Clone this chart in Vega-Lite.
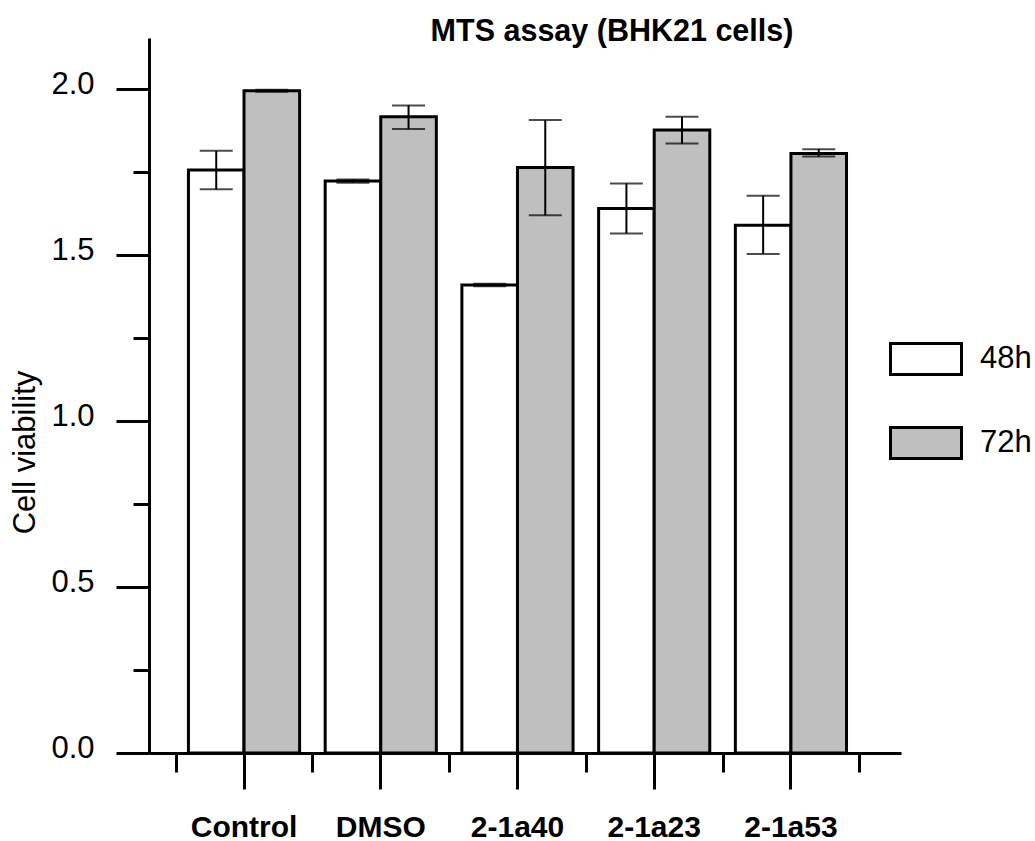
{
  "$schema": "https://vega.github.io/schema/vega-lite/v6.json",
  "autosize": "none",
  "width": 752,
  "height": 715,
  "padding": {"left": 149, "top": 38, "right": 134, "bottom": 88},
  "background": "white",
  "config": {
    "font": "Liberation Sans",
    "view": {"stroke": null},
    "axis": {"grid": false, "domainColor": "black", "tickColor": "black", "labelColor": "black", "titleColor": "black"}
  },
  "title": {
    "text": "MTS assay (BHK21 cells)",
    "fontSize": 30.5,
    "fontWeight": "bold",
    "font": "Liberation Sans",
    "anchor": "middle",
    "baseline": "alphabetic",
    "offset": 0,
    "dx": 87,
    "dy": 33
  },
  "data": {
    "values": [
      {"treatment": "Control", "time": "48h", "value": 1.756, "lo": 1.698, "hi": 1.814},
      {"treatment": "Control", "time": "72h", "value": 1.995, "lo": 1.992, "hi": 1.998},
      {"treatment": "DMSO", "time": "48h", "value": 1.723, "lo": 1.718, "hi": 1.728},
      {"treatment": "DMSO", "time": "72h", "value": 1.917, "lo": 1.880, "hi": 1.951},
      {"treatment": "2-1a40", "time": "48h", "value": 1.410, "lo": 1.406, "hi": 1.414},
      {"treatment": "2-1a40", "time": "72h", "value": 1.764, "lo": 1.620, "hi": 1.907},
      {"treatment": "2-1a23", "time": "48h", "value": 1.640, "lo": 1.565, "hi": 1.716},
      {"treatment": "2-1a23", "time": "72h", "value": 1.877, "lo": 1.836, "hi": 1.917},
      {"treatment": "2-1a53", "time": "48h", "value": 1.590, "lo": 1.503, "hi": 1.679},
      {"treatment": "2-1a53", "time": "72h", "value": 1.806, "lo": 1.797, "hi": 1.819}
    ]
  },
  "resolve": {"axis": {"x": "independent", "y": "independent"}},
  "layer": [
    {
      "mark": {"type": "bar", "stroke": "black", "strokeWidth": 3},
      "encoding": {
        "x": {
          "field": "treatment",
          "type": "nominal",
          "sort": ["Control", "DMSO", "2-1a40", "2-1a23", "2-1a53"],
          "scale": {"paddingInner": 0, "paddingOuter": 0.25, "align": 0.39},
          "axis": {
            "orient": "bottom",
            "title": null,
            "labelAngle": 0,
            "labelFontSize": 30,
            "labelFontWeight": "bold",
            "labelBaseline": "alphabetic",
            "labelPadding": 47,
            "tickSize": 36,
            "tickWidth": 3,
            "domainWidth": 3
          }
        },
        "xOffset": {
          "field": "time",
          "type": "nominal",
          "scale": {"paddingInner": 0, "paddingOuter": 0.23}
        },
        "y": {
          "field": "value",
          "type": "quantitative",
          "scale": {"domain": [0, 2.154], "nice": false},
          "axis": {
            "orient": "left",
            "title": "Cell viability",
            "titleFontSize": 31,
            "titleFontWeight": "normal",
            "titleX": -124,
            "titleY": 414,
            "titleAlign": "center",
            "titleBaseline": "middle",
            "titleAngle": -90,
            "values": [0, 0.5, 1, 1.5, 2],
            "format": ".1f",
            "labelFontSize": 31,
            "labelPadding": 22,
            "labelOffset": -5,
            "tickSize": 33,
            "tickWidth": 3,
            "domainWidth": 3
          }
        },
        "fill": {
          "field": "time",
          "type": "nominal",
          "scale": {"domain": ["48h", "72h"], "range": ["white", "#bfbfbf"]},
          "legend": {
            "title": null,
            "orient": "none",
            "legendX": 740,
            "legendY": 284,
            "padding": 0,
            "symbolType": "M-1,-0.437H1V0.437H-1Z",
            "symbolSize": 5041,
            "symbolStrokeColor": "black",
            "symbolStrokeWidth": 3,
            "symbolOpacity": 1,
            "labelFontSize": 31,
            "labelOffset": 17,
            "labelColor": "black",
            "rowPadding": 25
          }
        }
      }
    },
    {
      "mark": {"type": "rule", "color": "black", "strokeWidth": 2},
      "encoding": {
        "x": {
          "field": "treatment",
          "type": "nominal",
          "sort": ["Control", "DMSO", "2-1a40", "2-1a23", "2-1a53"],
          "axis": {
            "orient": "bottom",
            "title": null,
            "labels": false,
            "domain": false,
            "tickBand": "extent",
            "tickSize": 19,
            "tickWidth": 3
          }
        },
        "xOffset": {"field": "time", "type": "nominal"},
        "y": {
          "field": "lo",
          "type": "quantitative",
          "axis": {
            "orient": "left",
            "title": null,
            "labels": false,
            "domain": false,
            "values": [0.25, 0.75, 1.25, 1.75],
            "tickSize": 16,
            "tickWidth": 3
          }
        },
        "y2": {"field": "hi"}
      }
    },
    {
      "mark": {"type": "tick", "color": "black", "thickness": 2, "size": 33},
      "encoding": {
        "x": {"field": "treatment", "type": "nominal", "sort": ["Control", "DMSO", "2-1a40", "2-1a23", "2-1a53"], "axis": null},
        "xOffset": {"field": "time", "type": "nominal"},
        "y": {"field": "lo", "type": "quantitative", "axis": null}
      }
    },
    {
      "mark": {"type": "tick", "color": "black", "thickness": 2, "size": 33},
      "encoding": {
        "x": {"field": "treatment", "type": "nominal", "sort": ["Control", "DMSO", "2-1a40", "2-1a23", "2-1a53"], "axis": null},
        "xOffset": {"field": "time", "type": "nominal"},
        "y": {"field": "hi", "type": "quantitative", "axis": null}
      }
    }
  ]
}
